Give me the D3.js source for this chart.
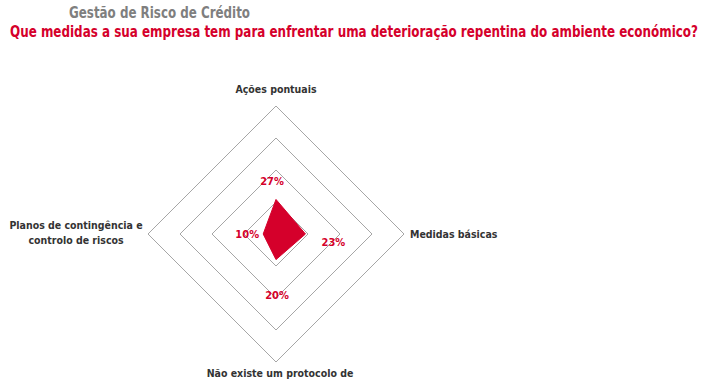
<!DOCTYPE html>
<html>
<head>
<meta charset="utf-8">
<script src="https://cdn.jsdelivr.net/npm/d3@7"></script>
<style>
  body { margin: 0; background: #fff; }
  svg { display: block; }
</style>
</head>
<body>
<div id="container"><svg></svg></div>
<script>
let width = 711
let height = 386
let fontFamily = "'Liberation Sans Narrow', 'DejaVu Sans Condensed', sans-serif"

let title = 'Gestão de Risco de Crédito'
let subtitle = 'Que medidas a sua empresa tem para enfrentar uma deterioração repentina do ambiente económico?'

// axes, clockwise from the top
let categories = [
    ['Ações pontuais'],
    ['Medidas básicas'],
    ['Não existe um protocolo de'],
    ['Planos de contingência e', 'controlo de riscos']
]
let values = [27, 23, 20, 10]
let ring_ticks = [25, 50, 75, 100]

let red = '#d5002b'
let grey_text = '#333333'

function draw_main() {
    let svg = d3.select('#container').select('svg')
        .attr('width', width)
        .attr('height', height)
        .style('font-family', fontFamily)

    // titles
    svg.append('text')
        .attr('x', 69).attr('y', 18)
        .attr('font-size', 16).attr('font-weight', 'bold')
        .attr('fill', '#7f7f7f')
        .attr('textLength', 181).attr('lengthAdjust', 'spacingAndGlyphs')
        .text(title)
    svg.append('text')
        .attr('x', 10).attr('y', 37)
        .attr('font-size', 15).attr('font-weight', 'bold')
        .attr('fill', red)
        .attr('textLength', 688).attr('lengthAdjust', 'spacingAndGlyphs')
        .text(subtitle)

    let cx = 276, cy = 234
    let r = d3.scaleLinear().domain([0, 100]).range([0, 128])
    let angle = d3.scaleLinear().domain([0, categories.length]).range([0, 2 * Math.PI])

    let g = svg.append('g').attr('transform', `translate(${cx}, ${cy})`)

    // grid rings (diamonds)
    let ring = d3.lineRadial()
        .angle((d, i) => angle(i))
        .radius(d => r(d))
        .curve(d3.curveLinearClosed)
    g.append('g')
        .selectAll('path')
        .data(ring_ticks)
        .enter().append('path')
        .attr('d', t => ring(categories.map(() => t)))
        .attr('fill', 'none')
        .attr('stroke', '#a6a6a6')
        .attr('stroke-width', 1)

    // data polygon
    g.append('path')
        .attr('d', ring(values))
        .attr('fill', red)
        .attr('stroke', red)
        .attr('stroke-width', 1)

    // value labels (offset per axis, like the original placement)
    let label_off = [[-4, -14], [28, 12], [1, 39], [-16, 4]]
    g.append('g')
        .selectAll('text')
        .data(values)
        .enter().append('text')
        .attr('x', (d, i) => Math.sin(angle(i)) * r(d) + label_off[i][0])
        .attr('y', (d, i) => -Math.cos(angle(i)) * r(d) + label_off[i][1])
        .attr('text-anchor', 'middle')
        .attr('font-size', 11).attr('font-weight', 'bold')
        .attr('fill', red)
        .text(d => d + '%')

    // category labels
    let cat_pos = [
        { x: 0, y: -141, anchor: 'middle' },
        { x: 134, y: 4, anchor: 'start' },
        { x: 4, y: 143, anchor: 'middle' },
        { x: -200, y: -5, anchor: 'middle' }
    ]
    categories.forEach((lines, i) => {
        let t = g.append('text')
            .attr('x', cat_pos[i].x)
            .attr('y', cat_pos[i].y)
            .attr('text-anchor', cat_pos[i].anchor)
            .attr('font-size', 10.5).attr('font-weight', 'bold')
            .attr('fill', grey_text)
        lines.forEach((l, j) => {
            t.append('tspan')
                .attr('x', cat_pos[i].x)
                .attr('dy', j == 0 ? 0 : 15)
                .text(l)
        })
    })
}

draw_main()
</script>
</body>
</html>
